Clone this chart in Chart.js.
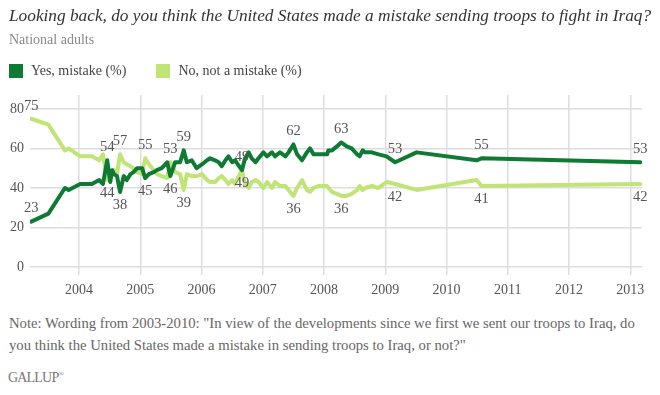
<!DOCTYPE html>
<html>
<head>
<meta charset="utf-8">
<script src="https://cdn.jsdelivr.net/npm/chart.js@4.4.0/dist/chart.umd.min.js"></script>
<style>
  body { margin: 0; background: #fff; font-family: "Liberation Serif", serif; }
  #page { position: relative; width: 660px; height: 395px; overflow: hidden; }
  #wrap { position: absolute; left: 0; top: 0; width: 660px; height: 310px; }
  #title { position: absolute; left: 9px; top: 6px; font-style: italic; font-size: 17.3px; color: #333; white-space: nowrap; }
  #subtitle { position: absolute; left: 9px; top: 32px; font-size: 14px; color: #888; }
  #legend { position: absolute; left: 9px; top: 63px; font-size: 14px; color: #444; display: flex; }
  .key { display: flex; align-items: center; margin-right: 30px; }
  .swatch { width: 14px; height: 14px; margin-right: 8px; }
  #note { position: absolute; left: 9px; top: 312px; font-size: 14.7px; line-height: 22px; color: #666; white-space: nowrap; }
  #logo { position: absolute; left: 8px; top: 370px; font-size: 14px; color: #777; letter-spacing: -0.8px; }
</style>
</head>
<body>
<div id="page">
  <div id="wrap"><canvas id="chart"></canvas></div>
  <div id="title">Looking back, do you think the United States made a mistake sending troops to fight in Iraq?</div>
  <div id="subtitle">National adults</div>
  <div id="legend">
    <div class="key"><span class="swatch" style="background:#0f7a33"></span>Yes, mistake (%)</div>
    <div class="key"><span class="swatch" style="background:#c0e475"></span>No, not a mistake (%)</div>
  </div>
  <div id="note">Note: Wording from 2003-2010: "In view of the developments since we first we sent our troops to Iraq, do<br>you think the United States made a mistake in sending troops to Iraq, or not?"</div>
  <div id="logo">GALLUP<sup style="font-size:7px">®</sup></div>
</div>
<script>
// poll dates as decimal years
const pollDates = [
  2003.22, 2003.50, 2003.77, 2003.83, 2004.02, 2004.21, 2004.33, 2004.39, 2004.46, 2004.51,
  2004.54, 2004.57, 2004.62, 2004.67, 2004.73, 2004.78, 2004.84, 2004.89, 2004.95, 2005.03,
  2005.08, 2005.14, 2005.22, 2005.27, 2005.35, 2005.44, 2005.49, 2005.57, 2005.65, 2005.71,
  2005.76, 2005.84, 2005.92, 2006.01, 2006.09, 2006.14, 2006.22, 2006.28, 2006.33, 2006.39,
  2006.44, 2006.50, 2006.55, 2006.59, 2006.66, 2006.71, 2006.77, 2006.82, 2006.88, 2006.93,
  2007.01, 2007.07, 2007.15, 2007.20, 2007.28, 2007.37, 2007.42, 2007.50, 2007.56, 2007.64,
  2007.72, 2007.77, 2007.83, 2007.91, 2008.05, 2008.07, 2008.13, 2008.21, 2008.28, 2008.37,
  2008.45, 2008.54, 2008.58, 2008.63, 2008.67, 2008.78, 2008.89, 2009.02, 2009.16, 2009.51,
  2010.49, 2010.57, 2013.16
];
const yesMistake = [
  23, 27, 40, 39, 42, 42, 44, 42, 54, 43,
  49, 47, 46, 38, 46, 44, 47, 48, 50, 50,
  45, 47, 48, 49, 50, 53, 46, 53, 53, 59,
  53, 54, 50, 52, 54, 55, 54, 53, 51, 54,
  56, 53, 54, 52, 49, 55, 58, 55, 53, 55,
  58, 56, 58, 56, 58, 56, 58, 62, 57, 54,
  58, 60, 57, 57, 57, 59, 59, 61, 63, 61,
  60, 57, 56, 59, 58, 58, 57, 56, 53, 58,
  54, 55, 53
];
const notMistake = [
  75, 72, 59, 60, 56, 56, 54, 57, 44, 45,
  47, 49, 47, 57, 53, 52, 51, 50, 48, 47,
  55, 52, 49, 47, 46, 45, 53, 48, 47, 39,
  47, 46, 46, 47, 44, 43, 43, 45, 46, 44,
  42, 44, 42, 45, 49, 42, 40, 43, 44, 43,
  40, 43, 40, 43, 41, 41, 39, 36, 40, 44,
  39, 38, 40, 41, 41, 40, 38, 37, 36, 36,
  37, 39, 41, 39, 40, 41, 40, 43, 42, 39,
  44, 41, 42
];
// points that carry a value label (both series)
const labelAt = [0, 8, 13, 20, 26, 29, 44, 57, 68, 78, 81, 82];

const yearTicks = [2004, 2005, 2006, 2007, 2008, 2009, 2010, 2011, 2012, 2013];
const valueTicks = [0, 20, 40, 60, 80];

const DARK = '#0f7a33';
const LIGHT = '#c0e475';
const SERIF = '"Liberation Serif", serif';

const pointLabels = {
  id: 'pointLabels',
  afterDatasetsDraw(chart) {
    const ctx = chart.ctx;
    const [yesDs, noDs] = chart.data.datasets;
    const yesMeta = chart.getDatasetMeta(0);
    const noMeta = chart.getDatasetMeta(1);
    ctx.save();
    ctx.font = '14.5px ' + SERIF;
    ctx.fillStyle = '#555';
    ctx.textAlign = 'center';
    ctx.textBaseline = 'middle';
    labelAt.forEach(i => {
      const yv = yesDs.data[i].y, nv = noDs.data[i].y;
      // the higher series gets its label above, the lower one below
      const yesAbove = i === 0 || yv >= nv;
      const noAbove = i === 0 || nv > yv;
      const yp = yesMeta.data[i], np = noMeta.data[i];
      ctx.fillText(String(yv), yp.x, yp.y + (yesAbove ? -13 : 13));
      ctx.fillText(String(nv), np.x, np.y + (noAbove ? -13 : 13));
    });
    ctx.restore();
  }
};

const toPoints = vals => pollDates.map((d, i) => ({ x: d, y: vals[i] }));

new Chart(document.getElementById('chart'), {
  type: 'line',
  data: {
    datasets: [{
      label: 'Yes, mistake (%)',
      data: toPoints(yesMistake),
      borderColor: DARK,
      borderWidth: 4
    }, {
      label: 'No, not a mistake (%)',
      data: toPoints(notMistake),
      borderColor: LIGHT,
      borderWidth: 4
    }]
  },
  options: {
    responsive: true,
    maintainAspectRatio: false,
    animation: false,
    layout: { padding: { top: 95, right: 18, bottom: 5, left: 0 } },
    elements: {
      point: { radius: 0 },
      line: { tension: 0, borderJoinStyle: 'round', borderCapStyle: 'round' }
    },
    scales: {
      x: {
        type: 'linear',
        min: 2003.2,
        max: 2013.19,
        afterBuildTicks: axis => { axis.ticks = yearTicks.map(v => ({ value: v })); },
        afterFit: scale => { scale.height = 30; },
        grid: { color: '#dddddd', lineWidth: 1.5, drawTicks: false },
        border: { display: false },
        ticks: { padding: 7, color: '#555', font: { family: SERIF, size: 14 }, callback: v => String(v) }
      },
      y: {
        min: -4,
        max: 87,
        afterBuildTicks: axis => { axis.ticks = valueTicks.map(v => ({ value: v })); },
        afterFit: scale => { scale.width = 30; },
        grid: { color: '#dddddd', lineWidth: 1.5, drawTicks: false },
        border: { display: false },
        ticks: { padding: 6, color: '#555', font: { family: SERIF, size: 14 } }
      }
    },
    plugins: {
      legend: { display: false },
      tooltip: { enabled: false }
    }
  },
  plugins: [pointLabels]
});
</script>
</body>
</html>
